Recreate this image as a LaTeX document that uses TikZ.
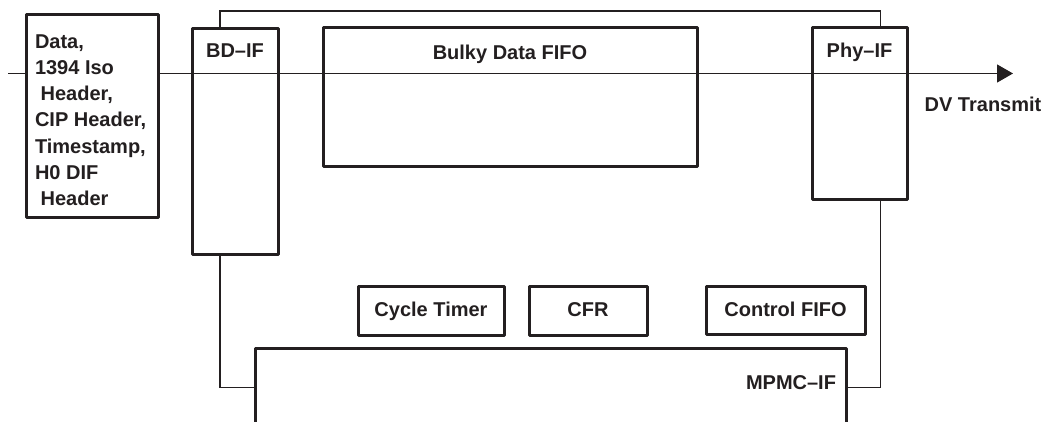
\documentclass[tikz,border=0pt]{standalone}
\usepackage{fontspec}
\setmainfont{Liberation Sans}
\usetikzlibrary{arrows.meta}
\definecolor{ink}{RGB}{35,31,32}
\begin{document}
\begin{tikzpicture}[x=1pt,y=-1pt,
  box/.style={draw=ink,line width=3pt,line join=round,rectangle,inner sep=0pt,outer sep=0pt},
  lbl/.style={font=\bfseries\fontsize{20}{26.3}\selectfont,text=ink,inner sep=0pt,outer sep=0pt},
  wire/.style={draw=ink,line width=1.2pt}]
\path[use as bounding box] (0,0) rectangle (1050,422);
\clip (0,0) rectangle (1050,422);
% main data path
\coordinate (in) at (8,73.5);
\coordinate (out) at (1013,73.5);
\draw[wire,-{Triangle[length=16pt,width=18pt]}] (in) -- (out);
% boxes
\node[box,fill=white,minimum width=132pt,minimum height=203pt] (data) at (92,116.5) {};
\node[box,minimum width=86pt,minimum height=226pt] (bd) at (235,142) {};
\node[box,minimum width=374pt,minimum height=139pt] (bulk) at (510,97.5) {};
\node[box,minimum width=95pt,minimum height=172pt] (phy) at (859.5,114) {};
\node[box,minimum width=146pt,minimum height=48pt] (ct) at (431,311) {};
\node[box,minimum width=118pt,minimum height=48pt] (cfr) at (588,311) {};
\node[box,minimum width=159pt,minimum height=48pt] (cf) at (785.5,310.5) {};
\node[box,minimum width=591pt,minimum height=122pt] (mpmc) at (550.5,409) {};
% labels
\node[lbl,anchor=base west,align=left] (datal) at (35,205.8) {Data,\\1394 Iso\\\hspace*{0.28em}Header,\\CIP Header,\\Timestamp,\\H0 DIF\\\hspace*{0.28em}Header};
\node[lbl,anchor=base] (bdl) at (235,58) {BD--IF};
\node[lbl,anchor=base] (bulkl) at (510,60) {Bulky Data FIFO};
\node[lbl,anchor=base] (phyl) at (859.5,58) {Phy--IF};
\node[lbl,anchor=base] (dvl) at (983,112) {DV Transmit};
\node[lbl,anchor=base] (ctl) at (431,316.5) {Cycle Timer};
\node[lbl,anchor=base] (cfrl) at (588,316.5) {CFR};
\node[lbl,anchor=base] (cfl) at (785.5,316.5) {Control FIFO};
\node[lbl,anchor=base east] (mpmcl) at (836,389) {MPMC--IF};
% connectors
\draw[wire] ([xshift=28pt]bd.north west) -- ++(0,-18) -| ([xshift=-26.5pt]phy.north east);
\draw[wire] ([xshift=28pt]bd.south west) |- ([yshift=-39.5pt]mpmc.north west);
\draw[wire] ([xshift=-26.5pt]phy.south east) |- ([yshift=-39.5pt]mpmc.north east);
\end{tikzpicture}
\end{document}
